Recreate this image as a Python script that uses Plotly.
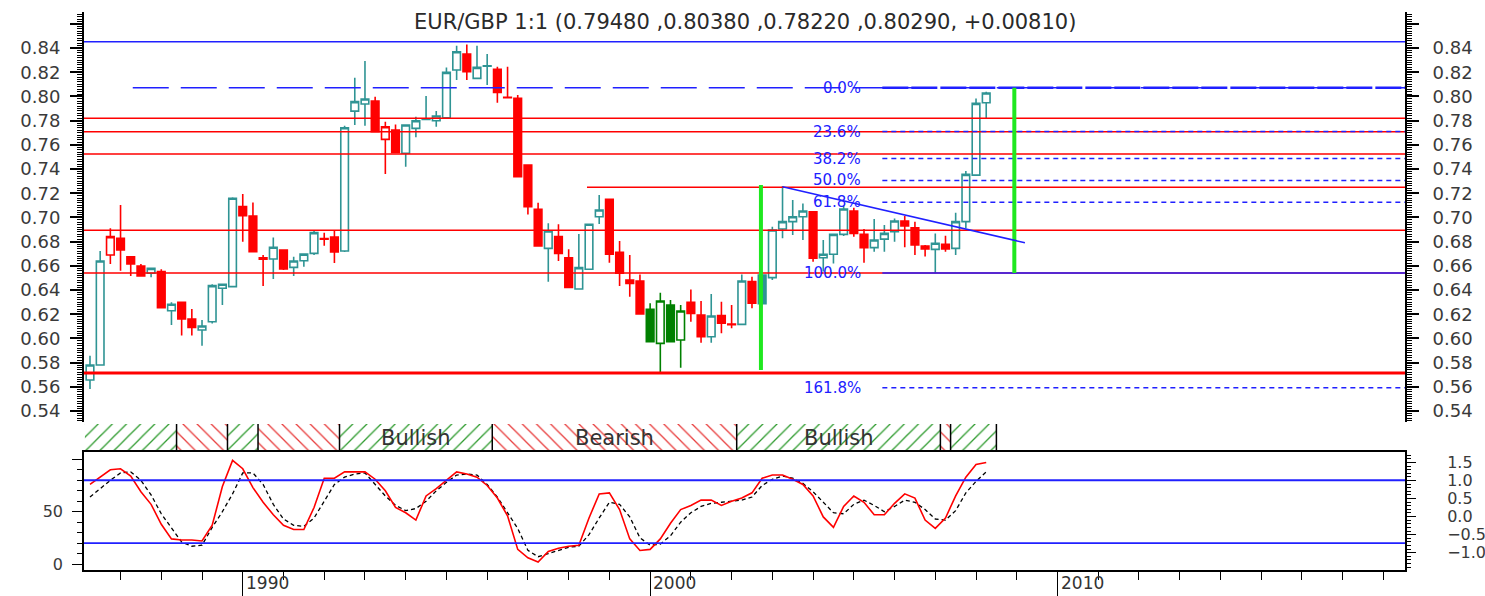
import plotly.graph_objects as go
import pandas as pd

# ---------------- DATA ----------------
quarters = pd.period_range("1986Q2", "2008Q2", freq="Q")

opens = [0.5656, 0.5780, 0.6689, 0.6827, 0.6675, 0.6598, 0.6538, 0.6552, 0.6229, 0.6298,
         0.6160, 0.6069, 0.6138, 0.6414, 0.6428, 0.7089, 0.7012, 0.6667, 0.6656, 0.6731,
         0.6587, 0.6642, 0.6703, 0.6825, 0.6838, 0.6722, 0.7879, 0.7937, 0.7962, 0.7645,
         0.7722, 0.7530, 0.7736, 0.7810, 0.7799, 0.7824, 0.8218, 0.8351, 0.8149, 0.8249,
         0.8224, 0.7993, 0.7984, 0.7433, 0.7067, 0.6744, 0.6841, 0.6667, 0.6408, 0.6571,
         0.7006, 0.7149, 0.6711, 0.6483, 0.6474, 0.6240, 0.5959, 0.6276, 0.5987, 0.6298,
         0.6193, 0.6014, 0.6188, 0.6118, 0.6116, 0.6469, 0.6524, 0.6502, 0.6904, 0.6965,
         0.7006, 0.7047, 0.6667, 0.6695, 0.6860, 0.7053, 0.6860, 0.6750, 0.6821, 0.6882,
         0.6970, 0.6915, 0.6764, 0.6736, 0.6777, 0.6744, 0.6965, 0.7350, 0.7948]
highs = [0.5857, 0.6722, 0.6910, 0.7102, 0.6680, 0.6615, 0.6585, 0.6571, 0.6298, 0.6300,
         0.6243, 0.6152, 0.6447, 0.6450, 0.7166, 0.7193, 0.7124, 0.6689, 0.6835, 0.6737,
         0.6675, 0.6703, 0.6890, 0.6874, 0.6888, 0.7758, 0.8155, 0.8293, 0.7998, 0.7791,
         0.7769, 0.7769, 0.7833, 0.8003, 0.7879, 0.8240, 0.8419, 0.8430, 0.8419, 0.8351,
         0.8246, 0.8246, 0.8012, 0.7433, 0.7122, 0.6951, 0.6943, 0.6736, 0.6863, 0.6943,
         0.7185, 0.7155, 0.6805, 0.6689, 0.6529, 0.6290, 0.6378, 0.6317, 0.6276, 0.6405,
         0.6309, 0.6367, 0.6303, 0.6276, 0.6529, 0.6510, 0.6524, 0.6923, 0.7260, 0.7144,
         0.7116, 0.7047, 0.6813, 0.6860, 0.7097, 0.7080, 0.6904, 0.6987, 0.6937, 0.6992,
         0.7012, 0.6965, 0.6772, 0.6868, 0.6849, 0.7039, 0.7384, 0.7984, 0.8038]
lows = [0.5582, 0.5780, 0.6615, 0.6560, 0.6516, 0.6510, 0.6505, 0.6254, 0.6111, 0.6023,
        0.6023, 0.5940, 0.6124, 0.6276, 0.6428, 0.6799, 0.6717, 0.6433, 0.6491, 0.6565,
        0.6516, 0.6593, 0.6689, 0.6766, 0.6623, 0.6715, 0.7764, 0.7758, 0.7709, 0.7359,
        0.7530, 0.7419, 0.7662, 0.7810, 0.7750, 0.7824, 0.8136, 0.8136, 0.8149, 0.8094,
        0.7948, 0.7989, 0.7337, 0.7025, 0.6764, 0.6469, 0.6640, 0.6422, 0.6408, 0.6571,
        0.6945, 0.6626, 0.6433, 0.6345, 0.6202, 0.5973, 0.5717, 0.5973, 0.5758, 0.6138,
        0.5965, 0.5965, 0.6042, 0.6083, 0.6116, 0.6249, 0.6284, 0.6483, 0.6827, 0.6855,
        0.6813, 0.6634, 0.6552, 0.6620, 0.6846, 0.6841, 0.6626, 0.6717, 0.6717, 0.6799,
        0.6753, 0.6689, 0.6676, 0.6538, 0.6717, 0.6689, 0.6910, 0.7350, 0.7822]
closes = [0.5780, 0.6640, 0.6841, 0.6731, 0.6615, 0.6516, 0.6579, 0.6254, 0.6282, 0.6160,
          0.6091, 0.6102, 0.6436, 0.6447, 0.7158, 0.7014, 0.6717, 0.6654, 0.6753, 0.6574,
          0.6640, 0.6697, 0.6874, 0.6820, 0.6714, 0.7741, 0.7957, 0.7979, 0.7709, 0.7750,
          0.7538, 0.7764, 0.7799, 0.7813, 0.7838, 0.8199, 0.8370, 0.8204, 0.8240, 0.8253,
          0.8034, 0.7989, 0.7337, 0.7089, 0.6764, 0.6888, 0.6703, 0.6422, 0.6585, 0.6943,
          0.7061, 0.6697, 0.6538, 0.6455, 0.6202, 0.5973, 0.6309, 0.5973, 0.6226, 0.6207,
          0.6014, 0.6185, 0.6125, 0.6114, 0.6474, 0.6290, 0.6287, 0.6896, 0.6965, 0.7006,
          0.7053, 0.6662, 0.6695, 0.6860, 0.7070, 0.6868, 0.6750, 0.6813, 0.6868, 0.6970,
          0.6929, 0.6772, 0.6739, 0.6786, 0.6739, 0.6965, 0.7356, 0.7943, 0.8029]
# colour group of each candle: t = teal, r = red, g = green
candle_group = ("ttrrrrtrtr" "rttttrrrtr" "tttrrtttrr" "rttttttrtt" "rrrrrtrrtt"
                "trrrrggggr" "rtrrtrtttt" "trtttrrttt" "rrrtrtttt")

# oscillator (left scale 0-100)
osc_fast = [76, 83, 90, 91, 84, 69, 57, 38, 24, 23,
            23, 22, 37, 74, 99, 91, 73, 59, 47, 37,
            33, 33, 54, 82, 82, 88, 88, 88, 81, 70,
            54, 49, 42, 65, 72, 80, 88, 86, 83, 75,
            63, 46, 14, 6, 2, 12, 15, 17, 18, 44,
            67, 68, 52, 24, 13, 14, 24, 39, 52, 56,
            61, 61, 56, 60, 63, 68, 82, 85, 85, 81,
            76, 65, 45, 35, 55, 65, 59, 47, 47, 58,
            67, 63, 42, 34, 44, 65, 83, 95, 97]
osc_slow = [64, 72, 80, 87, 88, 80, 66, 48, 34, 21,
            17, 18, 35, 50, 67, 87, 87, 76, 57, 43,
            37, 36, 44, 60, 76, 83, 86, 87, 76, 65,
            56, 51, 53, 60, 70, 78, 85, 86, 85, 76,
            64, 49, 34, 13, 7, 10, 13, 16, 17, 28,
            44, 59, 57, 45, 25, 18, 19, 27, 40, 49,
            55, 58, 59, 60, 61, 64, 75, 81, 84, 82,
            77, 69, 59, 49, 48, 57, 61, 56, 50, 55,
            61, 59, 52, 43, 42, 51, 68, 79, 88]
osc_levels = [80, 20]

# trend band
band_bounds = [1986.125, 1988.375, 1989.625, 1990.375, 1992.375, 1996.125,
               2002.125, 2007.125, 2007.375, 2008.5]
band_state = ["bull", "bear", "bull", "bear", "bull", "bear", "bull", "bear", "bull"]
band_text = ["", "", "", "", "Bullish", "Bearish", "Bullish", "", ""]

# horizontal levels on the price panel
top_level = 0.8452
red_levels = [0.7819, 0.7708, 0.7524, 0.6893, 0.6540]
red_thick_level = 0.5713
red_partial = (1998.45, 0.7249)
resist_dash = (1987.3, 0.8072)
fib_start = 2005.7
fib_levels = [0.8072, 0.7710, 0.7487, 0.7306, 0.7125, 0.6540, 0.5593]
fib_labels = ["0.0%", "23.6%", "38.2%", "50.0%", "61.8%", "100.0%", "161.8%"]
green_marks = [(2002.72, 0.5739, 0.7268), (2008.94, 0.6540, 0.8072)]
trend_line = [(2003.25, 0.7254), (2009.2, 0.6791)]

title_text = "EUR/GBP 1:1 (0.79480 ,0.80380 ,0.78220 ,0.80290, +0.00810)"
decade_labels = [1990, 2000, 2010]

# ---------------- FIGURE ----------------
X0, X1 = 1986.103, 2018.53
PRICE_RANGE = [0.5309, 0.8698]
OSC_RANGE = [-5.7, 107]
OSC_R_RANGE = [-1.48, 1.79]

x_q = [p.year + (p.quarter - 1) / 4 for p in quarters]

TEAL = "#2f9494"
RED = "#ff0000"
DGREEN = "#008000"
BLUE = "#2020ff"
LBL = "#3a3a3a"
FONT = "DejaVu Sans"
colors = {"t": TEAL, "r": RED, "g": DGREEN}

fig = go.Figure()
for key, col in colors.items():
    idx = [i for i, g in enumerate(candle_group) if g == key]
    fig.add_trace(go.Candlestick(
        x=[x_q[i] for i in idx],
        open=[opens[i] for i in idx], high=[highs[i] for i in idx],
        low=[lows[i] for i in idx], close=[closes[i] for i in idx],
        increasing=dict(line=dict(color=col, width=1.6), fillcolor="white"),
        decreasing=dict(line=dict(color=col, width=1.6), fillcolor=col),
        whiskerwidth=0, showlegend=False, xaxis="x", yaxis="y",
    ))

# dummy for the right price axis
fig.add_trace(go.Scatter(x=[x_q[0]], y=[closes[0]], xaxis="x", yaxis="y2", mode="markers",
                         marker=dict(opacity=0), hoverinfo="skip", showlegend=False))

# band
mids = [(a + b) / 2 for a, b in zip(band_bounds[:-1], band_bounds[1:])]
widths = [b - a for a, b in zip(band_bounds[:-1], band_bounds[1:])]
fig.add_trace(go.Bar(
    x=mids, y=[1] * len(mids), width=widths, base=0, xaxis="x", yaxis="y3",
    marker=dict(color="white", line=dict(width=0),
                pattern=dict(shape=["/" if s == "bull" else "\\" for s in band_state],
                             fgcolor=["#2e9b2e" if s == "bull" else "#e83a3a" for s in band_state],
                             bgcolor="white", size=10, solidity=0.13, fillmode="replace")),
    hoverinfo="skip", showlegend=False))

# oscillator
fig.add_trace(go.Scatter(x=x_q, y=osc_slow, xaxis="x", yaxis="y4", mode="lines",
                         line=dict(color="black", width=1.3, dash="4px,3px"), showlegend=False))
fig.add_trace(go.Scatter(x=x_q, y=osc_fast, xaxis="x", yaxis="y4", mode="lines",
                         line=dict(color=RED, width=1.6), showlegend=False))
fig.add_trace(go.Scatter(x=[x_q[0]], y=[0], xaxis="x", yaxis="y5", mode="markers",
                         marker=dict(opacity=0), hoverinfo="skip", showlegend=False))

shapes = []
def hline(y, color, width=1.5, dash="solid", x0=None, x1=None, yref="y"):
    if x0 is None:
        shapes.append(dict(type="line", xref="x domain", x0=0, x1=1, yref=yref, y0=y, y1=y,
                           line=dict(color=color, width=width, dash=dash)))
    else:
        shapes.append(dict(type="line", xref="x", x0=x0, x1=x1, yref=yref, y0=y, y1=y,
                           line=dict(color=color, width=width, dash=dash)))

hline(top_level, BLUE, 1.5)
for lv in red_levels:
    hline(lv, RED, 1.5)
hline(red_thick_level, RED, 3)
hline(red_partial[1], RED, 1.5, x0=red_partial[0], x1=X1)
hline(resist_dash[1], BLUE, 1.5, dash="36px,12px", x0=resist_dash[0], x1=X1)
for lv, lab in zip(fib_levels, fib_labels):
    if lab == "0.0%":
        hline(lv, BLUE, 2.5, dash="26px,3px", x0=fib_start, x1=X1)
    elif lab == "100.0%":
        hline(lv, BLUE, 1.5, x0=fib_start, x1=X1)
    else:
        hline(lv, BLUE, 1.5, dash="5px,4px", x0=fib_start, x1=X1)
for gx, g0, g1 in green_marks:
    shapes.append(dict(type="line", xref="x", yref="y", x0=gx, x1=gx, y0=g0, y1=g1,
                       line=dict(color="#1fe81f", width=4)))
shapes.append(dict(type="line", xref="x", yref="y", x0=trend_line[0][0], y0=trend_line[0][1],
                   x1=trend_line[1][0], y1=trend_line[1][1], line=dict(color=BLUE, width=1.5)))
for lv in osc_levels:
    hline(lv, BLUE, 1.8, yref="y4")
for b in band_bounds[1:]:
    shapes.append(dict(type="line", xref="x", yref="y3 domain", x0=b, x1=b, y0=0, y1=1,
                       line=dict(color="black", width=1.5)))

annotations = [dict(text=title_text, xref="paper", yref="paper", x=0.5, y=0.97857,
                    xanchor="center", yanchor="middle", showarrow=False,
                    font=dict(family=FONT, size=21, color="#2a2a2a"))]
for lv, lab in zip(fib_levels, fib_labels):
    annotations.append(dict(text=lab, xref="x", yref="y", x=2005.22, y=lv, xanchor="right",
                            yanchor="middle", showarrow=False,
                            font=dict(family=FONT, size=15, color=BLUE)))
for m, t in zip(mids, band_text):
    if t:
        annotations.append(dict(text=t, xref="x", yref="y3", x=m, y=0.5, xanchor="center",
                                yanchor="middle", showarrow=False,
                                font=dict(family=FONT, size=21, color="#333333")))
for d in decade_labels:
    annotations.append(dict(text=str(d), xref="x", yref="paper", x=d, y=-0.0232, xanchor="left",
                            yanchor="middle", xshift=1, showarrow=False,
                            font=dict(family=FONT, size=17, color="#333333")))

def price_axis(side, standoff):
    return dict(range=PRICE_RANGE, side=side, anchor="x", tickmode="linear", tick0=0.54, dtick=0.02,
                tickformat=".2f", labelalias={"0.86": ""}, ticks="outside", ticklen=12, tickwidth=1.5,
                tickcolor="black", showline=True, linewidth=2, linecolor="black", showgrid=False,
                zeroline=False, ticklabelstandoff=standoff,
                minor=dict(tickmode="linear", tick0=0.54, dtick=0.002, ticks="outside", ticklen=5,
                           tickwidth=1, tickcolor="black", showgrid=False),
                tickfont=dict(family=FONT, size=18, color=LBL))

yaxis_main = price_axis("left", 6)
yaxis_main["domain"] = [0.26429, 0.99643]
yaxis_right = price_axis("right", 10)
yaxis_right["overlaying"] = "y"

fig.update_layout(
    width=1485, height=596,
    margin=dict(l=84, r=80, t=10, b=26, autoexpand=False),
    paper_bgcolor="white", plot_bgcolor="white", showlegend=False,
    boxgap=0.25, boxgroupgap=0, barmode="overlay", hovermode=False,
    font=dict(family=FONT, color=LBL),
    xaxis=dict(domain=[0, 1], range=[X0, X1], anchor="y4", showgrid=False, zeroline=False,
               tickmode="linear", tick0=1990, dtick=10, ticks="outside", ticklen=26,
               tickcolor="black", tickwidth=1.2, showticklabels=False,
               minor=dict(tickmode="linear", tick0=1990, dtick=1, ticks="outside", ticklen=8,
                          tickcolor="black", tickwidth=1.2, showgrid=False),
               showline=True, linecolor="black", linewidth=1.5, mirror=True,
               rangeslider=dict(visible=False)),
    yaxis=yaxis_main,
    yaxis2=yaxis_right,
    yaxis3=dict(domain=[0.21071, 0.26071], range=[0, 1], visible=False, anchor="x",
                fixedrange=True),
    yaxis4=dict(domain=[0, 0.21071], range=OSC_RANGE, anchor="x", side="left",
                tickmode="linear", tick0=0, dtick=50, labelalias={"100": ""},
                ticks="outside", ticklen=10, tickcolor="black", showline=True, linecolor="black",
                linewidth=1.5, mirror=True, showgrid=False, zeroline=False, ticklabelstandoff=6,
                minor=dict(tickmode="linear", tick0=0, dtick=10, ticks="outside", ticklen=5,
                           tickcolor="black", showgrid=False),
                tickfont=dict(family=FONT, size=16, color=LBL)),
    yaxis5=dict(overlaying="y4", range=OSC_R_RANGE, anchor="x", side="right",
                tickmode="linear", tick0=0, dtick=0.5, tickformat=".1f",
                ticks="outside", ticklen=10, tickcolor="black", showline=False, showgrid=False,
                zeroline=False, ticklabelstandoff=28,
                minor=dict(tickmode="linear", tick0=0, dtick=0.1, ticks="outside", ticklen=5,
                           tickcolor="black", showgrid=False),
                tickfont=dict(family=FONT, size=16, color=LBL)),
    shapes=shapes, annotations=annotations,
)

fig.write_html("out.html", config={"displayModeBar": False},
               post_script="document.body.style.margin='0';document.body.style.overflow='hidden';")
